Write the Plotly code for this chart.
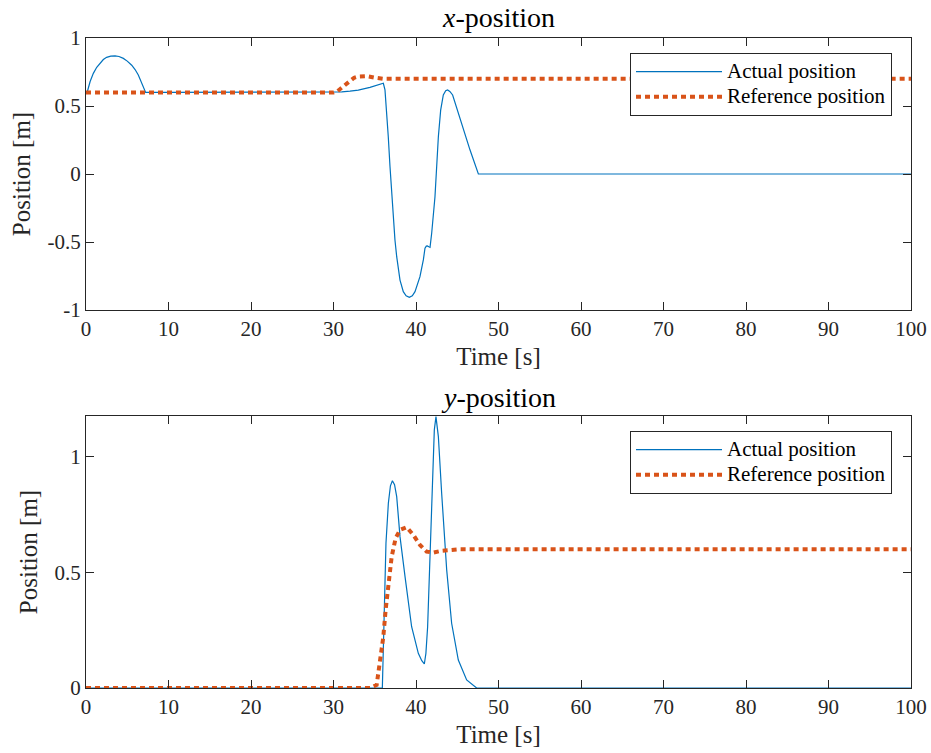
import plotly.graph_objects as go

# ---- data ----
t_x_act = [0, 0.16, 0.5, 0.89, 1.3, 1.7, 2.1, 2.5, 3.0, 3.52, 4.0, 4.53, 5.0, 5.54, 5.95,
           6.34, 6.65, 6.95, 7.23, 10, 20, 29, 30, 31, 32, 33, 34.42, 35.3, 36.04,
           36.24, 36.44, 36.64, 36.85, 37.05, 37.25, 37.45, 37.66, 38.06, 38.46, 38.8,
           39.19, 39.55, 39.88, 40.48, 40.89, 41.09, 41.25, 41.37, 41.55, 41.70, 41.90,
           42.30, 42.71, 42.99, 43.31, 43.6, 43.83, 44.1, 44.44, 45.0, 45.74, 46.55,
           47.56, 50, 100]
x_act = [0.60, 0.605, 0.68, 0.74, 0.785, 0.818, 0.842, 0.858, 0.866, 0.868, 0.864, 0.85,
         0.83, 0.80, 0.768, 0.728, 0.688, 0.642, 0.60, 0.60, 0.60, 0.60, 0.601, 0.604,
         0.609, 0.617, 0.637, 0.652, 0.667,
         0.618, 0.47, 0.274, 0.054, -0.142, -0.314, -0.485, -0.608, -0.78, -0.865, -0.895,
         -0.907, -0.895, -0.865, -0.755, -0.632, -0.546, -0.53, -0.529, -0.535, -0.539,
         -0.436, -0.167, 0.274, 0.47, 0.581, 0.612, 0.618, 0.607, 0.581, 0.47, 0.324,
         0.176, 0.0, 0.0, 0.0]

t_x_ref = [0, 30, 30.5, 31, 31.5, 32, 32.5, 33, 34, 35, 36, 100]
x_ref = [0.60, 0.60, 0.61, 0.635, 0.665, 0.69, 0.708, 0.717, 0.72, 0.708, 0.70, 0.70]

t_y_act = [0, 35.92, 36.16, 36.36, 36.65, 36.9, 37.14, 37.4, 37.66, 38.06, 38.67, 39.47,
           40.28, 40.7, 41.01, 41.2, 41.41, 41.70, 41.98, 42.22, 42.42, 42.71, 43.11,
           43.72, 44.32, 45.13, 46.14, 47.35, 100]
y_act = [0, 0, 0.338, 0.626, 0.80, 0.875, 0.897, 0.88, 0.828, 0.655, 0.482, 0.265,
         0.150, 0.118, 0.104, 0.15, 0.265, 0.554, 0.915, 1.117, 1.174, 1.088, 0.843,
         0.511, 0.28, 0.121, 0.035, 0.0, 0.0]

t_y_ref = [0, 34.42, 35.23, 35.64, 36.04, 36.32, 36.65, 37.05, 37.53, 38.06, 38.87,
           39.68, 40.48, 41.29, 42.1, 43.11, 45.13, 100]
y_ref = [0, 0, 0.013, 0.107, 0.222, 0.338, 0.453, 0.568, 0.648, 0.684, 0.696, 0.662,
         0.619, 0.59, 0.586, 0.594, 0.60, 0.60]

x_ticks = [0, 10, 20, 30, 40, 50, 60, 70, 80, 90, 100]
top_yticks = [-1, -0.5, 0, 0.5, 1]
top_yticktext = ["-1", "-0.5", "0", "0.5", "1"]
bot_yticks = [0, 0.5, 1]
bot_yticktext = ["0", "0.5", "1"]

BLUE = "#0072BD"
ORANGE = "#D95319"
INK = "#262626"
FONT = "Liberation Serif"
W, H = 931, 753


def leg(s):
    return '<span style="font-size:21px">' + s + '</span>'


fig = go.Figure()
fig.add_trace(go.Scatter(x=t_x_act, y=x_act, mode="lines", name=leg("Actual position"),
                         line=dict(color=BLUE, width=1.2), xaxis="x", yaxis="y",
                         legend="legend"))
fig.add_trace(go.Scatter(x=t_x_ref, y=x_ref, mode="lines", name=leg("Reference position"),
                         line=dict(color=ORANGE, width=4, dash="5px,4px"),
                         xaxis="x", yaxis="y", legend="legend"))
fig.add_trace(go.Scatter(x=t_y_act, y=y_act, mode="lines", name=leg("Actual position"),
                         line=dict(color=BLUE, width=1.2), xaxis="x2", yaxis="y2",
                         legend="legend2"))
fig.add_trace(go.Scatter(x=t_y_ref, y=y_ref, mode="lines", name=leg("Reference position"),
                         line=dict(color=ORANGE, width=4, dash="5px,4px"),
                         xaxis="x2", yaxis="y2", legend="legend2"))

xl, xr = 86 / W, 911 / W
top_dom = [(H - 310) / H, (H - 38) / H]
bot_dom = [(H - 688) / H, (H - 416) / H]

axis_common = dict(showline=True, linecolor=INK, linewidth=1, mirror="ticks",
                   ticks="inside", ticklen=8, tickcolor=INK, showgrid=False,
                   zeroline=False, tickfont=dict(family=FONT, size=21, color=INK),
                   automargin=False)
xtitle = dict(text="Time [s]", standoff=7, font=dict(size=25, color=INK))
ytitle = dict(text="Position [m]", standoff=9, font=dict(size=25, color=INK))
legend_common = dict(xanchor="right", yanchor="top", bgcolor="white", bordercolor=INK,
                     borderwidth=1, font=dict(family=FONT, size=17, color="black"),
                     itemwidth=86, tracegroupgap=0)

fig.update_layout(
    width=W, height=H,
    margin=dict(l=0, r=0, t=0, b=0),
    paper_bgcolor="white", plot_bgcolor="white",
    font=dict(family=FONT, size=20, color=INK),
    xaxis=dict(domain=[xl, xr], range=[0, 100], tickvals=x_ticks, anchor="y",
               title=xtitle, **axis_common),
    yaxis=dict(domain=top_dom, range=[-1, 1], tickvals=top_yticks, ticktext=top_yticktext,
               anchor="x", title=ytitle, **axis_common),
    xaxis2=dict(domain=[xl, xr], range=[0, 100], tickvals=x_ticks, anchor="y2",
                title=xtitle, **axis_common),
    yaxis2=dict(domain=bot_dom, range=[0, 1.177], tickvals=bot_yticks,
                ticktext=bot_yticktext, anchor="x2", title=ytitle, **axis_common),
    legend=dict(x=892 / W, y=1 - 53 / H, **legend_common),
    legend2=dict(x=892 / W, y=1 - 431 / H, **legend_common),
    showlegend=True,
    annotations=[
        dict(text="<i>x</i>-position", x=(xl + xr) / 2, y=1 - 18 / H, xref="paper",
             yref="paper", showarrow=False, font=dict(family=FONT, size=28, color="black"),
             xanchor="center", yanchor="middle"),
        dict(text="<i>y</i>-position", x=(xl + xr) / 2, y=1 - 397 / H, xref="paper",
             yref="paper", showarrow=False, font=dict(family=FONT, size=28, color="black"),
             xanchor="center", yanchor="middle"),
    ],
)

fig.write_html("out.html")
